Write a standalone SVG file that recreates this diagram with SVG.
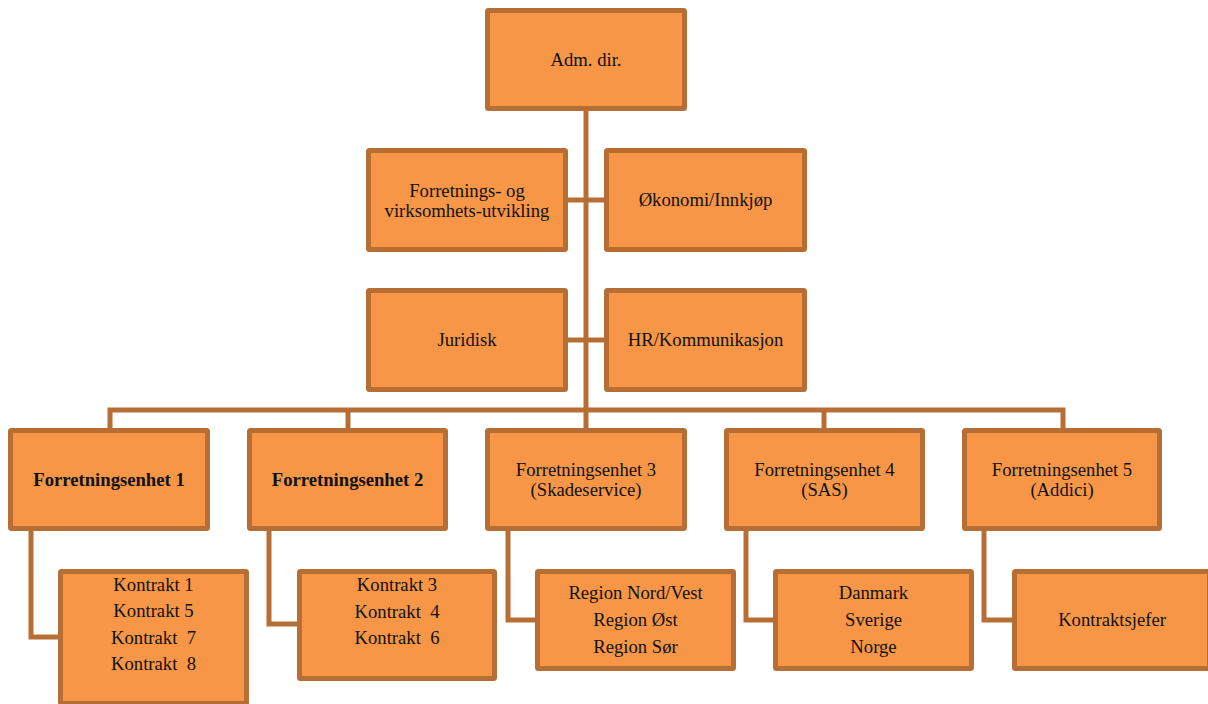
<svg xmlns="http://www.w3.org/2000/svg" width="1208" height="704" viewBox="0 0 1208 704">
  <style>
    .box { fill: #F79646; stroke: #B76E34; stroke-width: 5; }
    .wire { fill: none; stroke: #B76E34; stroke-width: 5; stroke-linejoin: miter; }
    text { font-family: "Liberation Serif", serif; font-size: 18.67px; fill: #111; text-anchor: middle; }
    .b { font-weight: bold; }
  </style>
  <rect width="1208" height="704" fill="#fff"/>

  <g id="connectors">
    <!-- trunk from the director down to the unit bus -->
    <path class="wire" d="M586 111 V410"/>
    <!-- staff functions -->
    <path class="wire" d="M568 200 H604"/>
    <path class="wire" d="M568 340 H604"/>
    <!-- business unit bus and drops -->
    <path class="wire" d="M110 428 V410 H1063 V428"/>
    <path class="wire" d="M348 410 V428"/>
    <path class="wire" d="M586 410 V428"/>
    <path class="wire" d="M824 410 V428"/>
    <!-- elbows to sub-boxes -->
    <path class="wire" d="M31 531 V637 H58"/>
    <path class="wire" d="M269 531 V624 H297"/>
    <path class="wire" d="M508 531 V620 H535"/>
    <path class="wire" d="M746 531 V620 H773"/>
    <path class="wire" d="M984 531 V620 H1012"/>
  </g>

  <g id="adm-dir">
    <rect class="box" x="487.5" y="10.5" width="197" height="98" rx="1"/>
    <text x="586" y="66">Adm. dir.</text>
  </g>

  <g id="forretningsutvikling">
    <rect class="box" x="368.5" y="150.5" width="197" height="99" rx="1"/>
    <text x="467" y="197">Forretnings- og</text>
    <text x="467" y="217">virksomhets-utvikling</text>
  </g>

  <g id="okonomi">
    <rect class="box" x="606.5" y="150.5" width="198" height="99" rx="1"/>
    <text x="705.5" y="206">Økonomi/Innkjøp</text>
  </g>

  <g id="juridisk">
    <rect class="box" x="368.5" y="290.5" width="197" height="99" rx="1"/>
    <text x="467" y="346">Juridisk</text>
  </g>

  <g id="hr">
    <rect class="box" x="606.5" y="290.5" width="198" height="99" rx="1"/>
    <text x="705.5" y="346">HR/Kommunikasjon</text>
  </g>

  <g id="fe1">
    <rect class="box" x="10.5" y="430.5" width="197" height="98" rx="1"/>
    <text class="b" x="109" y="486">Forretningsenhet 1</text>
  </g>

  <g id="fe2">
    <rect class="box" x="249.5" y="430.5" width="196" height="98" rx="1"/>
    <text class="b" x="347.5" y="486">Forretningsenhet 2</text>
  </g>

  <g id="fe3">
    <rect class="box" x="487.5" y="430.5" width="197" height="98" rx="1"/>
    <text x="586" y="476">Forretningsenhet 3</text>
    <text x="586" y="496">(Skadeservice)</text>
  </g>

  <g id="fe4">
    <rect class="box" x="726.5" y="430.5" width="196" height="98" rx="1"/>
    <text x="824.5" y="476">Forretningsenhet 4</text>
    <text x="824.5" y="496">(SAS)</text>
  </g>

  <g id="fe5">
    <rect class="box" x="964.5" y="430.5" width="195" height="98" rx="1"/>
    <text x="1062" y="476">Forretningsenhet 5</text>
    <text x="1062" y="496">(Addici)</text>
  </g>

  <g id="fe1-kontrakter">
    <rect class="box" x="60.5" y="571.5" width="186" height="132" rx="1"/>
    <text x="153.5" y="591" xml:space="preserve">Kontrakt 1</text>
    <text x="153.5" y="617" xml:space="preserve">Kontrakt 5</text>
    <text x="153.5" y="644" xml:space="preserve">Kontrakt  7</text>
    <text x="153.5" y="670" xml:space="preserve">Kontrakt  8</text>
  </g>

  <g id="fe2-kontrakter">
    <rect class="box" x="299.5" y="571.5" width="195" height="107" rx="1"/>
    <text x="397" y="591" xml:space="preserve">Kontrakt 3</text>
    <text x="397" y="618" xml:space="preserve">Kontrakt  4</text>
    <text x="397" y="644" xml:space="preserve">Kontrakt  6</text>
  </g>

  <g id="fe3-regioner">
    <rect class="box" x="537.5" y="571.5" width="196" height="97" rx="1"/>
    <text x="635.5" y="599">Region Nord/Vest</text>
    <text x="635.5" y="626">Region Øst</text>
    <text x="635.5" y="653">Region Sør</text>
  </g>

  <g id="fe4-land">
    <rect class="box" x="775.5" y="571.5" width="196" height="97" rx="1"/>
    <text x="873.5" y="599">Danmark</text>
    <text x="873.5" y="626">Sverige</text>
    <text x="873.5" y="653">Norge</text>
  </g>

  <g id="fe5-kontraktsjefer">
    <rect class="box" x="1014.5" y="571.5" width="195" height="97" rx="1"/>
    <text x="1112" y="626">Kontraktsjefer</text>
  </g>
</svg>
